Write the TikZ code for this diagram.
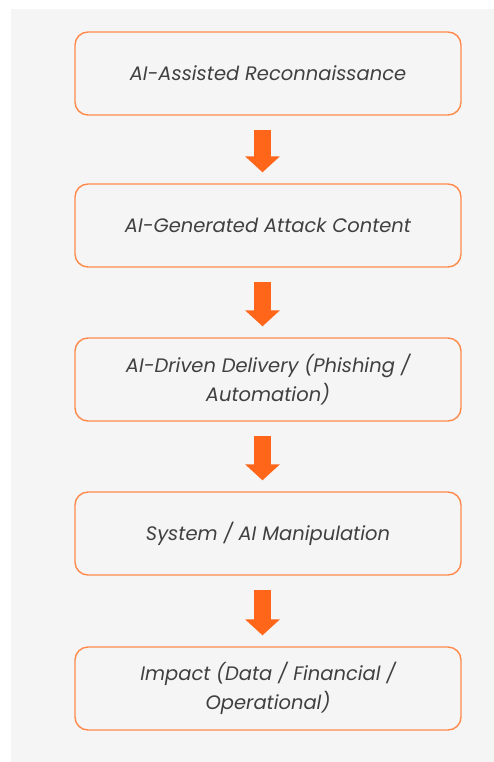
\documentclass[tikz,border=0pt]{standalone}
\usepackage{fontspec}
\setmainfont{Poppins}
\usetikzlibrary{arrows.meta}
\definecolor{panelgray}{HTML}{F5F5F5}
\definecolor{stepline}{HTML}{FF8A4C}
\definecolor{flowarrow}{HTML}{FF661A}
\definecolor{steptext}{HTML}{404040}
\tikzset{
  stepbox/.style={draw=stepline,line width=1.4pt,rounded corners=13pt,
    minimum width=386pt,minimum height=83pt,align=center,text=steptext,
    font=\itshape\fontsize{19.5}{29}\selectfont},
  flow/.style={draw=flowarrow,line width=17pt,
    -{Triangle[length=16pt,width=34pt]},shorten <=14pt,shorten >=11pt}
}
\begin{document}
\begin{tikzpicture}[x=1pt,y=-1pt]
    \useasboundingbox (0,0) rectangle (494,762);
    \fill[panelgray] (11,9) rectangle (494,762);
    \node[stepbox] (recon) at (268,73.5) {AI-Assisted Reconnaissance};
    \node[stepbox] (content) at (268,225.5) {AI-Generated Attack Content};
    \node[stepbox] (delivery) at (268,379.5) {AI-Driven Delivery (Phishing /\\Automation)};
    \node[stepbox] (manip) at (268,533.5) {System / AI Manipulation};
    \node[stepbox] (impact) at (268,688.5) {Impact (Data / Financial /\\Operational)};
    \draw[flow] ([xshift=-5.5pt]recon.south) -- ([xshift=-5.5pt]content.north);
    \draw[flow] ([xshift=-5.5pt]content.south) -- ([xshift=-5.5pt]delivery.north);
    \draw[flow] ([xshift=-5.5pt]delivery.south) -- ([xshift=-5.5pt]manip.north);
    \draw[flow] ([xshift=-5.5pt]manip.south) -- ([xshift=-5.5pt]impact.north);
\end{tikzpicture}
\end{document}
